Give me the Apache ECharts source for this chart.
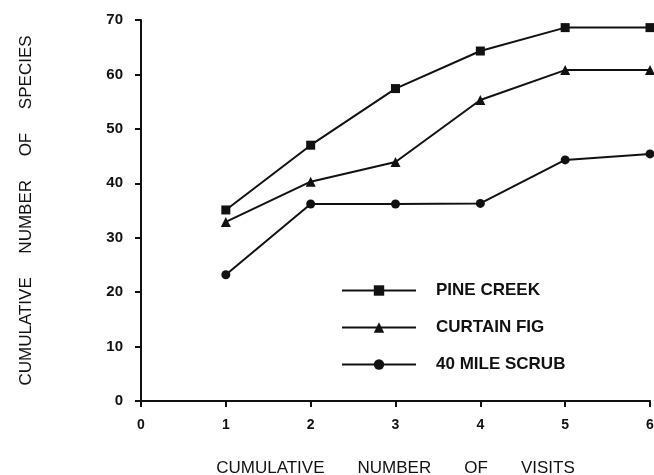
<!DOCTYPE html>
<html>
<head>
<meta charset="utf-8">
<script src="https://cdn.jsdelivr.net/npm/echarts@6/dist/echarts.min.js"></script>
<style>html,body{margin:0;padding:0;background:#fff;}#c{width:654px;height:475px;}</style>
</head>
<body>
<div id="c"></div>
<script>
var visits = [1, 2, 3, 4, 5, 6];
var pineCreek = [35.1, 47.0, 57.4, 64.3, 68.6, 68.6];
var curtainFig = [32.9, 40.3, 43.9, 55.3, 60.8, 60.8];
var fortyMileScrub = [23.2, 36.2, 36.2, 36.3, 44.3, 45.4];
var seriesNames = ['PINE CREEK', 'CURTAIN FIG', '40 MILE SCRUB'];
var xTitle = 'CUMULATIVE       NUMBER       OF       VISITS';
var yTitle = 'CUMULATIVE     NUMBER     OF     SPECIES';

function pairs(vals){ return visits.map(function(v,i){return [v, vals[i]];}); }
var ink = '#111';
var font = 'Liberation Sans, Arial, sans-serif';
function mk(name, vals, symbol, size){
  return {name:name, type:'line', data:pairs(vals), symbol:symbol, symbolSize:size,
    lineStyle:{color:ink,width:2}, itemStyle:{color:ink}, showSymbol:true, animation:false, clip:false};
}
var chart = echarts.init(document.getElementById('c'));
chart.setOption({
  backgroundColor:'#fff',
  animation:false,
  grid:{left:141,right:4,top:20,bottom:74,containLabel:false,outerBoundsMode:'none'},
  legend:{orient:'vertical',left:336,top:277,itemWidth:74,itemHeight:13,itemGap:20,
    data:seriesNames,
    textStyle:{color:ink,fontFamily:font,fontSize:17,fontWeight:'bold',padding:[0,0,0,15]}},
  xAxis:{type:'value',min:0,max:6,interval:1,
    name:xTitle,nameLocation:'middle',nameGap:59,
    nameTextStyle:{color:ink,fontFamily:font,fontSize:17},
    axisLine:{show:true,lineStyle:{color:ink,width:2}},
    axisTick:{show:true,length:6,lineStyle:{color:ink,width:2}},
    axisLabel:{color:ink,fontFamily:font,fontSize:14,fontWeight:'bold',margin:17},
    splitLine:{show:false}},
  yAxis:{type:'value',min:0,max:70,interval:10,
    name:yTitle,nameLocation:'middle',nameGap:106,
    nameTextStyle:{color:ink,fontFamily:font,fontSize:17},
    axisLine:{show:true,lineStyle:{color:ink,width:2}},
    axisTick:{show:true,length:6,lineStyle:{color:ink,width:2}},
    axisLabel:{color:ink,fontFamily:font,fontSize:15,fontWeight:'bold',margin:18},
    splitLine:{show:false}},
  series:[
    mk(seriesNames[0], pineCreek, 'rect', 9),
    mk(seriesNames[1], curtainFig, 'triangle', 10),
    mk(seriesNames[2], fortyMileScrub, 'circle', 9)
  ]
});
</script>
</body>
</html>
